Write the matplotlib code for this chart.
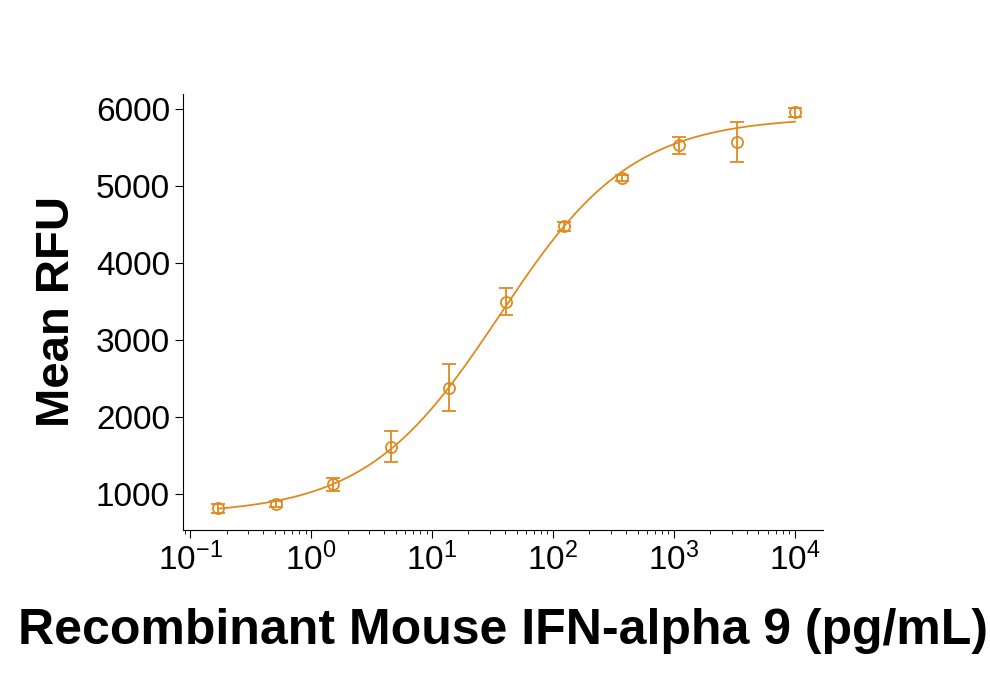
import numpy as np
import matplotlib
matplotlib.use("Agg")
import matplotlib.pyplot as plt

conc = [0.17, 0.51, 1.52, 4.57, 13.7, 41.2, 123, 370, 1111, 3333, 10000]
rfu = [810, 865, 1120, 1610, 2380, 3500, 4480, 5110, 5530, 5570, 5960]
err = [60, 40, 80, 200, 310, 180, 60, 40, 110, 260, 60]
fit_bottom, fit_top, fit_ec50, fit_hill = 730, 5900, 36, 0.787
yticks = [1000, 2000, 3000, 4000, 5000, 6000]
xticks = [0.1, 1, 10, 100, 1000, 10000]
xticklabels = ["10$^{-1}$", "10$^{0}$", "10$^{1}$", "10$^{2}$", "10$^{3}$", "10$^{4}$"]

plt.rcParams["font.family"] = "Liberation Sans"
plt.rcParams["mathtext.default"] = "regular"
col = "#E08A1E"
fig = plt.figure(figsize=(9.9, 6.81), dpi=100)
ax = fig.add_axes([0.185, 0.222, 0.646, 0.64])
xs = np.logspace(np.log10(0.17), 4, 300)
ax.plot(xs, fit_bottom + (fit_top - fit_bottom) / (1 + (fit_ec50 / xs) ** fit_hill), color=col, lw=1.3)
ax.errorbar(conc, rfu, yerr=err, fmt="o", mfc="none", mec=col, ecolor=col, ms=8, mew=1.3, capsize=5, elinewidth=1.3)
ax.set_xscale("log")
ax.set_xlim(10 ** -1.058, 10 ** 4.23)
ax.set_ylim(530, 6200)
ax.set_yticks(yticks)
ax.set_yticklabels([str(v) for v in yticks])
ax.set_xticks(xticks)
ax.set_xticklabels(xticklabels)
for s in ["top", "right"]:
    ax.spines[s].set_visible(False)
ax.tick_params(labelsize=24, direction="out", length=6)
ax.tick_params(which="minor", length=3)
ax.set_ylabel("Mean RFU", fontsize=34, fontweight="bold", labelpad=12)
ax.set_xlabel("Recombinant Mouse IFN-alpha 9 (pg/mL)", fontsize=36, fontweight="bold", labelpad=22)
fig.savefig("out.png")
